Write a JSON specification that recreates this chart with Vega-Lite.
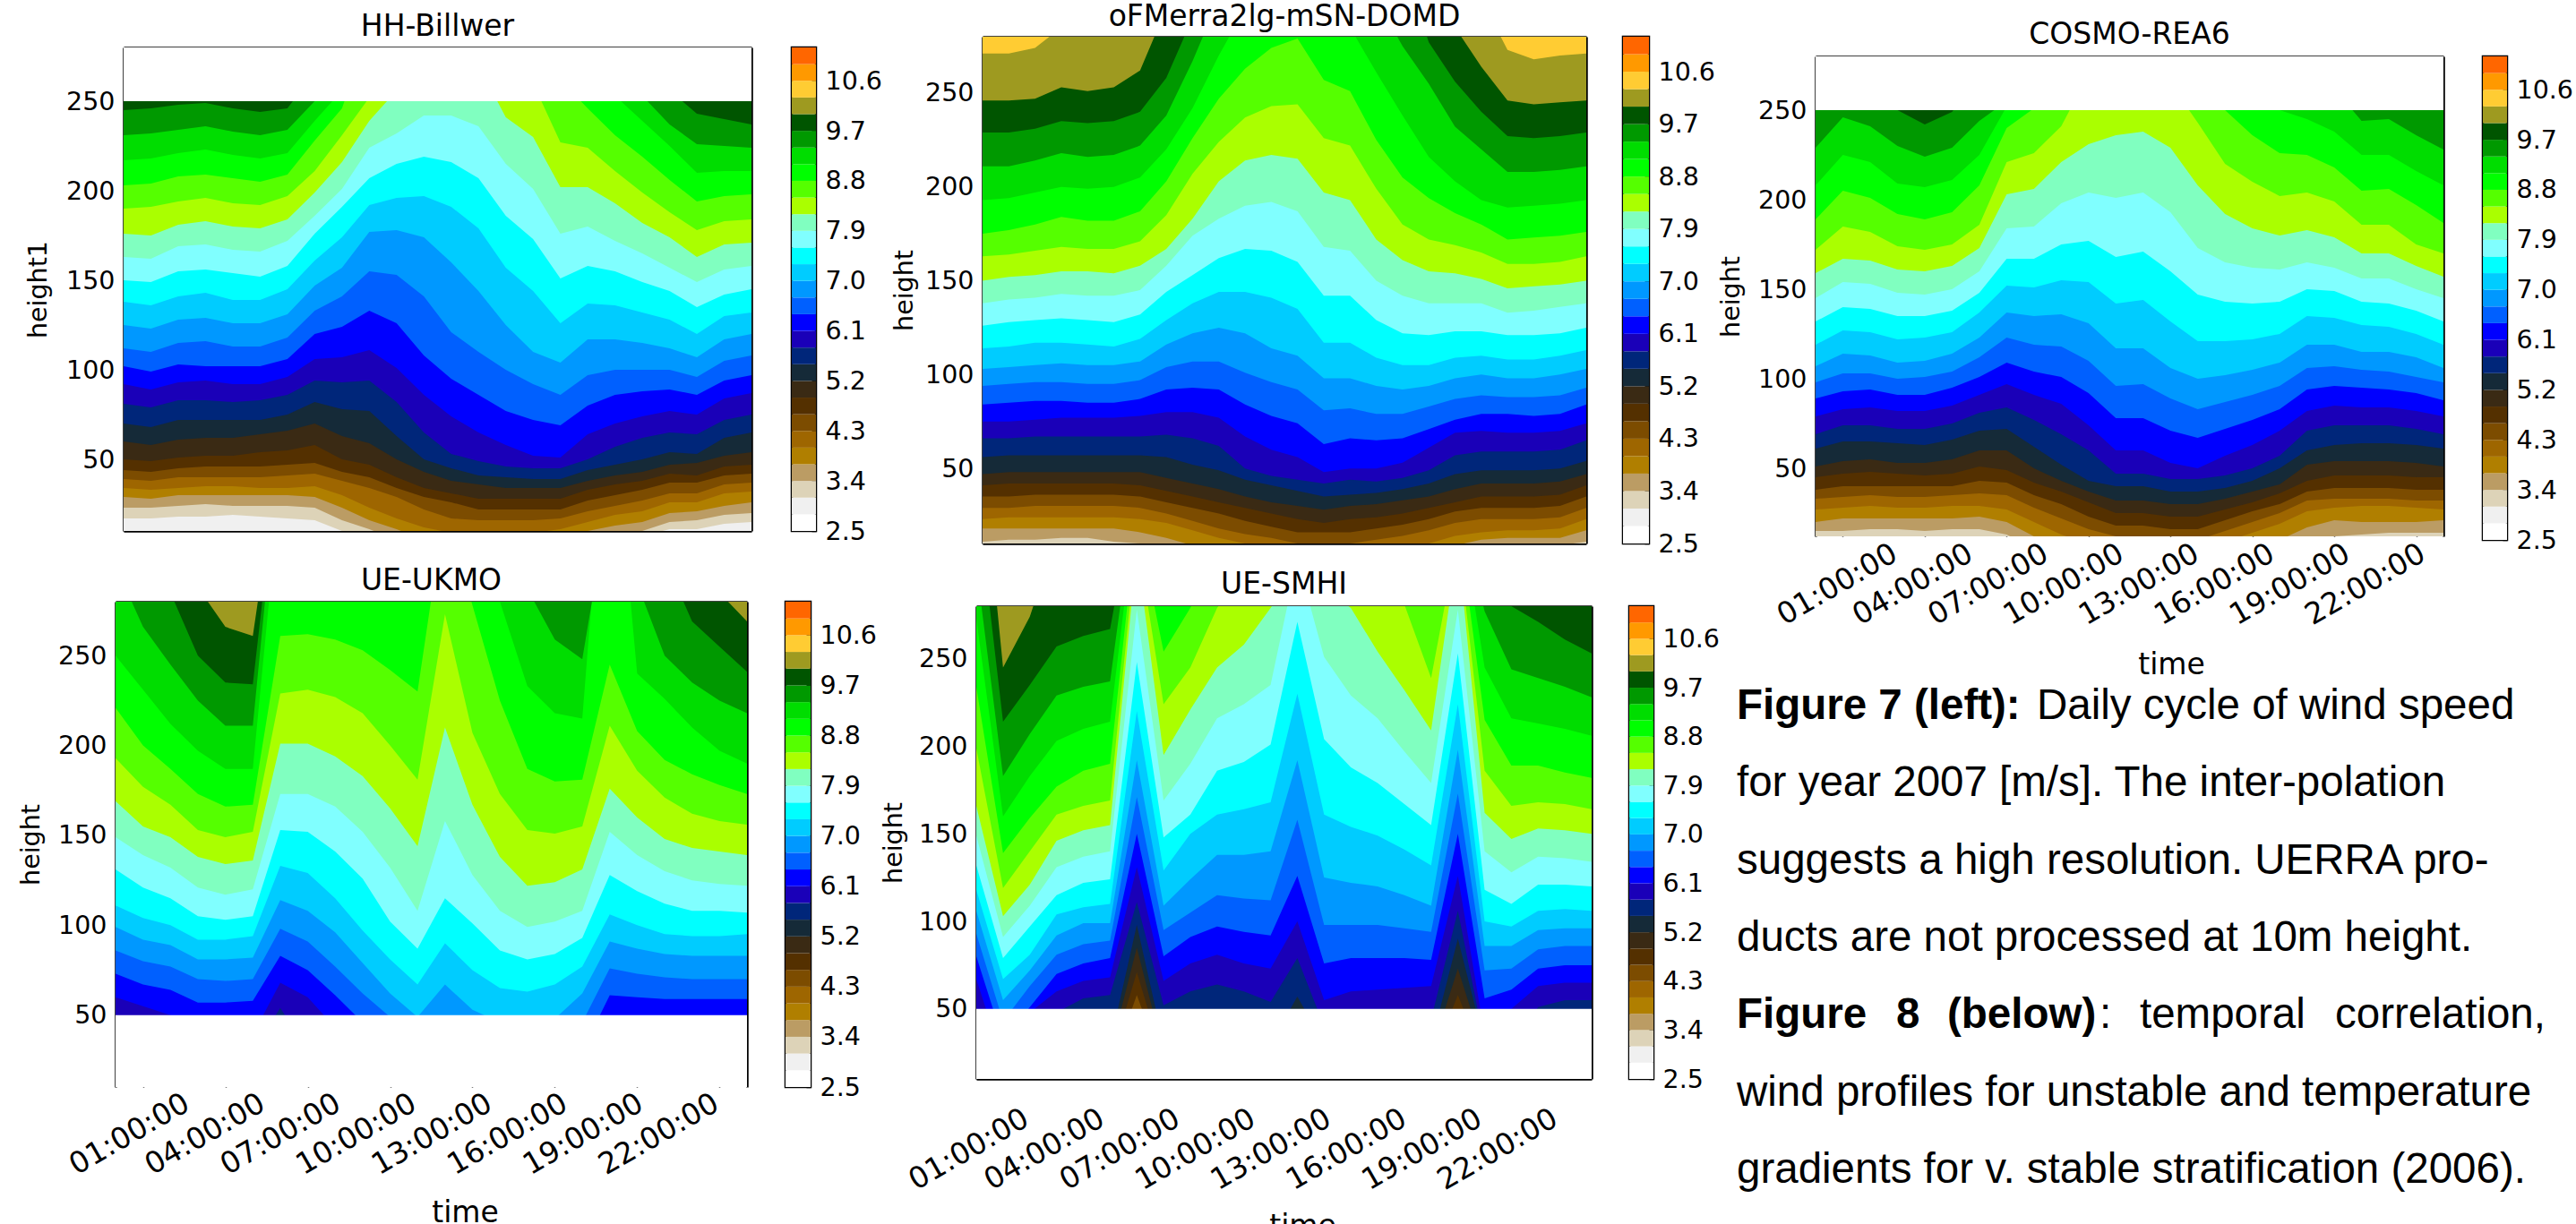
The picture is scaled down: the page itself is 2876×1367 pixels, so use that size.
{"$schema":"https://vega.github.io/schema/vega-lite/v6.json","background":"white","padding":{"left":20,"top":0,"right":0,"bottom":0},"config":{"view":{"stroke":null},"axis":{"labelFont":"DejaVu Sans","titleFont":"DejaVu Sans","labelFontSize":28.5,"titleFontSize":28.5,"titleFontWeight":"normal","grid":false,"domainColor":"#000","tickColor":"#000","labelColor":"#000","titleColor":"#000","domainWidth":2.5,"tickWidth":1.5,"tickSize":-10,"labelPadding":20,"labelOverlap":false,"labelBound":false,"labelFlush":false,"zindex":1},"title":{"font":"DejaVu Sans","fontSize":33,"fontWeight":"normal","color":"#000"}},"data":{"values":[{}]},"spacing":-3,
"datasets":{
"hours":[{"h":1,"label":"01:00:00"},{"h":4,"label":"04:00:00"},{"h":7,"label":"07:00:00"},{"h":10,"label":"10:00:00"},{"h":13,"label":"13:00:00"},{"h":16,"label":"16:00:00"},{"h":19,"label":"19:00:00"},{"h":22,"label":"22:00:00"}],
"bands":[{"b":"c0","lo":2.5,"hi":2.8},{"b":"c1","lo":2.8,"hi":3.1},{"b":"c2","lo":3.1,"hi":3.4},{"b":"c3","lo":3.4,"hi":3.7},{"b":"c4","lo":3.7,"hi":4.0},{"b":"c5","lo":4.0,"hi":4.3},{"b":"c6","lo":4.3,"hi":4.6},{"b":"c7","lo":4.6,"hi":4.9},{"b":"c8","lo":4.9,"hi":5.2},{"b":"c9","lo":5.2,"hi":5.5},{"b":"c10","lo":5.5,"hi":5.8},{"b":"c11","lo":5.8,"hi":6.1},{"b":"c12","lo":6.1,"hi":6.4},{"b":"c13","lo":6.4,"hi":6.7},{"b":"c14","lo":6.7,"hi":7.0},{"b":"c15","lo":7.0,"hi":7.3},{"b":"c16","lo":7.3,"hi":7.6},{"b":"c17","lo":7.6,"hi":7.9},{"b":"c18","lo":7.9,"hi":8.2},{"b":"c19","lo":8.2,"hi":8.5},{"b":"c20","lo":8.5,"hi":8.8},{"b":"c21","lo":8.8,"hi":9.1},{"b":"c22","lo":9.1,"hi":9.4},{"b":"c23","lo":9.4,"hi":9.7},{"b":"c24","lo":9.7,"hi":10.0},{"b":"c25","lo":10.0,"hi":10.3},{"b":"c26","lo":10.3,"hi":10.6},{"b":"c27","lo":10.6,"hi":10.9},{"b":"c28","lo":10.9,"hi":11.2}],
"cap":[{"line":1,"part":"b0","text":"Figure 7 (left):"},{"line":1,"part":"n1","text":"Daily cycle of wind speed"},{"line":2,"part":"n0","text":"for year 2007 [m/s]. The inter-polation"},{"line":3,"part":"n0","text":"suggests a high resolution. UERRA pro-"},{"line":4,"part":"n0","text":"ducts are not processed at 10m height."},{"line":5,"part":"b0","text":"Figure"},{"line":5,"part":"b2","text":"8"},{"line":5,"part":"b3","text":"(below)"},{"line":5,"part":"n4","text":":"},{"line":5,"part":"n5","text":"temporal"},{"line":5,"part":"n6","text":"correlation,"},{"line":6,"part":"n0","text":"wind profiles for unstable and temperature"},{"line":7,"part":"n0","text":"gradients for v. stable stratification (2006)."}],
"HH":[
{"c":"c2","0":17,"1":17,"2":18,"3":18,"4":19,"5":18,"6":17,"7":16,"8":10,"9":5,"10":5,"11":5,"12":5,"13":5,"14":5,"15":5,"16":5,"17":5,"18":5,"19":7,"20":11,"21":11,"22":14,"23":15},
{"c":"c3","0":23,"1":23,"2":24,"3":25,"4":24,"5":24,"6":24,"7":23,"8":16,"9":11,"10":5,"11":5,"12":5,"13":5,"14":5,"15":5,"16":5,"17":5,"18":7,"19":10,"20":15,"21":16,"22":19,"23":20},
{"c":"c4","0":29,"1":28,"2":30,"3":30,"4":30,"5":30,"6":30,"7":29,"8":23,"9":16,"10":11,"11":5,"12":5,"13":5,"14":5,"15":5,"16":5,"17":10,"18":13,"19":15,"20":20,"21":21,"22":24,"23":26},
{"c":"c5","0":34,"1":33,"2":34,"3":35,"4":35,"5":34,"6":34,"7":35,"8":30,"9":23,"10":17,"11":12,"12":9,"13":9,"14":9,"15":9,"16":11,"17":15,"18":19,"19":21,"20":26,"21":26,"22":31,"23":32},
{"c":"c6","0":39,"1":38,"2":40,"3":40,"4":40,"5":40,"6":41,"7":42,"8":38,"9":34,"10":29,"11":22,"12":17,"13":16,"14":16,"15":16,"16":17,"17":21,"18":24,"19":27,"20":31,"21":31,"22":36,"23":37},
{"c":"c7","0":44,"1":43,"2":45,"3":46,"4":46,"5":46,"6":47,"7":48,"8":43,"9":40,"10":34,"11":29,"12":26,"13":22,"14":22,"15":22,"16":22,"17":27,"18":30,"19":33,"20":37,"21":37,"22":41,"23":42},
{"c":"c8","0":50,"1":49,"2":51,"3":52,"4":52,"5":54,"6":55,"7":58,"8":50,"9":47,"10":40,"11":34,"12":31,"13":28,"14":28,"15":28,"16":28,"17":33,"18":36,"19":38,"20":42,"21":41,"22":46,"23":47},
{"c":"c9","0":60,"1":58,"2":61,"3":62,"4":62,"5":64,"6":66,"7":70,"8":63,"9":59,"10":50,"11":43,"12":38,"13":36,"14":34,"15":34,"16":34,"17":38,"18":41,"19":43,"20":47,"21":48,"22":52,"23":54},
{"c":"c10","0":70,"1":68,"2":72,"3":72,"4":72,"5":72,"6":75,"7":82,"8":78,"9":77,"10":63,"11":50,"12":45,"13":41,"14":40,"15":39,"16":39,"17":44,"18":47,"19":50,"20":54,"21":53,"22":62,"23":65},
{"c":"c11","0":81,"1":79,"2":83,"3":83,"4":82,"5":83,"6":86,"7":94,"8":93,"9":94,"10":82,"11":65,"12":53,"13":49,"14":46,"15":45,"16":45,"17":50,"18":57,"19":62,"20":65,"21":64,"22":72,"23":75},
{"c":"c12","0":92,"1":89,"2":93,"3":94,"4":92,"5":92,"6":96,"7":106,"8":107,"9":111,"10":101,"11":86,"12":74,"13":65,"14":58,"15":52,"16":51,"17":64,"18":70,"19":74,"20":77,"21":75,"22":84,"23":87},
{"c":"c13","0":102,"1":99,"2":103,"3":102,"4":102,"5":102,"6":106,"7":120,"8":124,"9":133,"10":126,"11":108,"12":95,"13":86,"14":77,"15":72,"16":69,"17":80,"18":86,"19":88,"20":89,"21":86,"22":94,"23":97},
{"c":"c14","0":112,"1":110,"2":115,"3":116,"4":113,"5":113,"6":118,"7":133,"8":141,"9":155,"10":153,"11":141,"12":121,"13":110,"14":100,"15":92,"16":86,"17":97,"18":100,"19":100,"20":100,"21":96,"22":105,"23":108},
{"c":"c15","0":125,"1":123,"2":128,"3":129,"4":126,"5":126,"6":131,"7":147,"8":157,"9":177,"10":178,"11":174,"12":160,"13":144,"14":125,"15":110,"16":104,"17":117,"18":117,"19":115,"20":112,"21":107,"22":117,"23":120},
{"c":"c16","0":138,"1":136,"2":141,"3":143,"4":139,"5":139,"6":145,"7":161,"8":174,"9":192,"10":196,"11":197,"12":191,"13":179,"14":157,"15":144,"16":126,"17":137,"18":136,"19":132,"20":128,"21":120,"22":130,"23":132},
{"c":"c17","0":150,"1":149,"2":155,"3":156,"4":154,"5":152,"6":158,"7":176,"8":191,"9":207,"10":215,"11":219,"12":216,"13":207,"14":186,"15":173,"16":151,"17":158,"18":155,"19":149,"20":144,"21":135,"22":142,"23":145},
{"c":"c18","0":163,"1":162,"2":169,"3":170,"4":167,"5":166,"6":172,"7":186,"8":201,"9":224,"10":232,"11":242,"12":242,"13":236,"14":215,"15":201,"16":176,"17":180,"18":172,"19":165,"20":157,"21":149,"22":156,"23":158},
{"c":"c19","0":176,"1":175,"2":181,"3":183,"4":180,"5":179,"6":184,"7":199,"8":216,"9":239,"10":256,"11":300,"12":300,"13":270,"14":241,"15":230,"16":202,"17":202,"18":193,"19":182,"20":174,"21":163,"22":170,"23":171},
{"c":"c20","0":190,"1":191,"2":194,"3":196,"4":193,"5":192,"6":197,"7":211,"8":231,"9":252,"10":290,"11":290,"12":290,"13":290,"14":290,"15":260,"16":227,"17":224,"18":211,"19":199,"20":188,"21":178,"22":183,"23":184},
{"c":"c21","0":203,"1":204,"2":208,"3":209,"4":207,"5":205,"6":209,"7":228,"8":246,"9":290,"10":300,"11":300,"12":300,"13":300,"14":300,"15":300,"16":262,"17":246,"18":231,"19":219,"20":206,"21":194,"22":197,"23":198},
{"c":"c22","0":217,"1":218,"2":221,"3":223,"4":220,"5":218,"6":221,"7":239,"8":256,"9":300,"10":300,"11":300,"12":300,"13":300,"14":300,"15":300,"16":300,"17":300,"18":253,"19":239,"20":225,"21":210,"22":211,"23":211},
{"c":"c23","0":231,"1":232,"2":234,"3":236,"4":233,"5":231,"6":234,"7":250,"8":270,"9":320,"10":320,"11":320,"12":320,"13":320,"14":320,"15":320,"16":320,"17":320,"18":320,"19":253,"20":237,"21":226,"22":225,"23":224},
{"c":"c24","0":245,"1":246,"2":248,"3":249,"4":246,"5":244,"6":246,"7":266,"8":300,"9":300,"10":300,"11":300,"12":300,"13":300,"14":300,"15":300,"16":300,"17":300,"18":300,"19":300,"20":256,"21":243,"22":240,"23":237}],
"MERRA":[
{"c":"c3","0":11,"1":12,"2":12,"3":13,"4":13,"5":11,"6":10,"7":5,"8":5,"9":5,"10":5,"11":5,"12":5,"13":5,"14":5,"15":5,"16":5,"17":5,"18":5,"19":5,"20":9,"21":9,"22":9,"23":11},
{"c":"c4","0":18,"1":18,"2":18,"3":18,"4":18,"5":18,"6":16,"7":13,"8":9,"9":5,"10":5,"11":5,"12":5,"13":5,"14":5,"15":5,"16":5,"17":5,"18":9,"19":12,"20":13,"21":13,"22":13,"23":17},
{"c":"c5","0":23,"1":24,"2":24,"3":24,"4":24,"5":24,"6":23,"7":21,"8":17,"9":13,"10":10,"11":7,"12":5,"13":5,"14":5,"15":5,"16":8,"17":10,"18":14,"19":16,"20":17,"21":17,"22":18,"23":23},
{"c":"c6","0":29,"1":29,"2":30,"3":30,"4":30,"5":30,"6":29,"7":26,"8":22,"9":18,"10":15,"11":13,"12":10,"13":9,"14":10,"15":12,"16":14,"17":17,"18":21,"19":23,"20":23,"21":23,"22":24,"23":29},
{"c":"c7","0":35,"1":35,"2":36,"3":36,"4":36,"5":36,"6":35,"7":32,"8":29,"9":26,"10":22,"11":19,"12":16,"13":16,"14":16,"15":18,"16":20,"17":23,"18":27,"19":29,"20":29,"21":29,"22":30,"23":35},
{"c":"c8","0":41,"1":42,"2":42,"3":42,"4":42,"5":42,"6":41,"7":38,"8":35,"9":32,"10":29,"11":26,"12":23,"13":21,"14":23,"15":24,"16":26,"17":29,"18":32,"19":35,"20":35,"21":35,"22":36,"23":41},
{"c":"c9","0":47,"1":48,"2":48,"3":48,"4":48,"5":48,"6":48,"7":45,"8":42,"9":39,"10":35,"11":32,"12":30,"13":28,"14":30,"15":31,"16":33,"17":35,"18":39,"19":42,"20":42,"21":42,"22":43,"23":47},
{"c":"c10","0":56,"1":57,"2":57,"3":57,"4":57,"5":57,"6":57,"7":56,"8":52,"9":49,"10":44,"11":41,"12":38,"13":35,"14":36,"15":37,"16":39,"17":42,"18":47,"19":49,"20":49,"21":49,"22":50,"23":54},
{"c":"c11","0":66,"1":66,"2":67,"3":67,"4":67,"5":67,"6":67,"7":68,"8":66,"9":62,"10":50,"11":46,"12":44,"13":42,"14":44,"15":43,"16":45,"17":49,"18":57,"19":59,"20":59,"21":59,"22":60,"23":65},
{"c":"c12","0":75,"1":75,"2":76,"3":77,"4":77,"5":77,"6":78,"7":80,"8":80,"9":77,"10":67,"11":60,"12":56,"13":48,"14":50,"15":50,"16":53,"17":61,"18":69,"19":70,"20":69,"21":69,"22":70,"23":74},
{"c":"c13","0":84,"1":85,"2":86,"3":86,"4":85,"5":85,"6":87,"7":92,"8":93,"9":92,"10":84,"11":78,"12":74,"13":63,"14":66,"15":65,"16":66,"17":71,"18":76,"19":79,"20":79,"21":78,"22":79,"23":84},
{"c":"c14","0":94,"1":95,"2":96,"3":96,"4":95,"5":95,"6":97,"7":104,"8":107,"9":107,"10":101,"11":96,"12":92,"13":81,"14":82,"15":79,"16":79,"17":83,"18":87,"19":89,"20":88,"21":88,"22":89,"23":93},
{"c":"c15","0":103,"1":104,"2":105,"3":106,"4":105,"5":105,"6":107,"7":116,"8":122,"9":125,"10":122,"11":114,"12":110,"13":98,"14":98,"15":94,"16":92,"17":94,"18":98,"19":100,"20":98,"21":98,"22":100,"23":103},
{"c":"c16","0":114,"1":115,"2":117,"3":117,"4":116,"5":115,"6":119,"7":129,"8":138,"9":144,"10":144,"11":141,"12":135,"13":117,"14":117,"15":109,"16":105,"17":105,"18":109,"19":110,"20":108,"21":108,"22":110,"23":113},
{"c":"c17","0":126,"1":128,"2":129,"3":130,"4":129,"5":128,"6":132,"7":144,"8":153,"9":162,"10":167,"11":166,"12":160,"13":142,"14":142,"15":129,"16":122,"17":121,"18":123,"19":123,"20":121,"21":121,"22":122,"23":125},
{"c":"c18","0":138,"1":140,"2":141,"3":143,"4":142,"5":142,"6":145,"7":158,"8":174,"9":183,"10":190,"11":192,"12":187,"13":168,"14":166,"15":150,"16":142,"17":138,"18":138,"19":138,"20":133,"21":134,"22":136,"23":138},
{"c":"c19","0":150,"1":152,"2":153,"3":155,"4":155,"5":154,"6":158,"7":167,"8":183,"9":203,"10":214,"11":217,"12":215,"13":197,"14":193,"15":172,"16":161,"17":155,"18":154,"19":151,"20":146,"21":147,"22":148,"23":150},
{"c":"c20","0":163,"1":164,"2":166,"3":168,"4":167,"5":167,"6":171,"7":185,"8":207,"9":224,"10":237,"11":243,"12":244,"13":226,"14":222,"15":199,"16":180,"17":172,"18":169,"19":165,"20":159,"21":159,"22":160,"23":163},
{"c":"c21","0":175,"1":177,"2":180,"3":184,"4":182,"5":182,"6":187,"7":203,"8":226,"9":247,"10":263,"11":274,"12":279,"13":257,"14":251,"15":225,"16":205,"17":194,"18":186,"19":180,"20":172,"21":173,"22":174,"23":176},
{"c":"c22","0":193,"1":194,"2":197,"3":200,"4":199,"5":200,"6":205,"7":220,"8":242,"9":270,"10":295,"11":320,"12":320,"13":320,"14":285,"15":261,"16":238,"17":216,"18":203,"19":193,"20":189,"21":190,"22":191,"23":193},
{"c":"c23","0":211,"1":211,"2":214,"3":218,"4":216,"5":217,"6":222,"7":238,"8":267,"9":300,"10":320,"11":320,"12":320,"13":320,"14":320,"15":300,"16":275,"17":255,"18":232,"19":220,"20":208,"21":208,"22":209,"23":211},
{"c":"c24","0":229,"1":229,"2":231,"3":235,"4":234,"5":235,"6":240,"7":258,"8":290,"9":320,"10":320,"11":320,"12":320,"13":320,"14":320,"15":320,"16":320,"17":277,"18":256,"19":240,"20":227,"21":226,"22":227,"23":229},
{"c":"c25","0":246,"1":246,"2":247,"3":253,"4":251,"5":253,"6":262,"7":295,"8":320,"9":320,"10":320,"11":320,"12":320,"13":320,"14":320,"15":320,"16":320,"17":320,"18":285,"19":264,"20":246,"21":244,"22":245,"23":246},
{"c":"c26","0":271,"1":271,"2":274,"3":285,"4":320,"5":320,"6":320,"7":320,"8":320,"9":320,"10":320,"11":320,"12":320,"13":320,"14":320,"15":320,"16":320,"17":320,"18":320,"19":300,"20":273,"21":268,"22":270,"23":271}],
"COSMO":[
{"c":"c3","0":15,"1":15,"2":16,"3":16,"4":15,"5":16,"6":16,"7":13,"8":5,"9":5,"10":5,"11":5,"12":5,"13":5,"14":5,"15":5,"16":5,"17":5,"18":10,"19":12,"20":13,"21":14,"22":14,"23":14},
{"c":"c4","0":20,"1":22,"2":22,"3":22,"4":22,"5":22,"6":23,"7":20,"8":12,"9":5,"10":5,"11":5,"12":5,"13":5,"14":5,"15":5,"16":5,"17":10,"18":17,"19":21,"20":20,"21":20,"22":20,"23":21},
{"c":"c5","0":27,"1":28,"2":29,"3":28,"4":28,"5":29,"6":29,"7":27,"8":20,"9":13,"10":8,"11":5,"12":5,"13":5,"14":5,"15":9,"16":14,"17":19,"18":26,"19":28,"20":29,"21":29,"22":28,"23":27},
{"c":"c6","0":33,"1":34,"2":35,"3":34,"4":34,"5":35,"6":36,"7":35,"8":28,"9":22,"10":16,"11":12,"12":11,"13":10,"14":10,"15":15,"16":20,"17":25,"18":32,"19":33,"20":33,"21":33,"22":32,"23":32},
{"c":"c7","0":38,"1":40,"2":40,"3":40,"4":40,"5":40,"6":43,"7":42,"8":35,"9":30,"10":23,"11":18,"12":18,"13":16,"14":16,"15":21,"16":26,"17":30,"18":37,"19":39,"20":39,"21":39,"22":38,"23":38},
{"c":"c8","0":45,"1":47,"2":48,"3":47,"4":46,"5":47,"6":51,"7":49,"8":42,"9":37,"10":31,"11":25,"12":25,"13":23,"14":23,"15":27,"16":31,"17":36,"18":43,"19":46,"20":46,"21":46,"22":45,"23":45},
{"c":"c9","0":51,"1":54,"2":55,"3":53,"4":53,"5":55,"6":60,"7":60,"8":50,"9":43,"10":37,"11":32,"12":32,"13":30,"14":30,"15":33,"16":37,"17":41,"18":52,"19":54,"20":54,"21":54,"22":53,"23":51},
{"c":"c10","0":61,"1":65,"2":65,"3":64,"4":63,"5":66,"6":71,"7":72,"8":62,"9":52,"10":43,"11":40,"12":40,"13":37,"14":37,"15":39,"16":43,"17":50,"18":60,"19":63,"20":64,"21":64,"22":63,"23":61},
{"c":"c11","0":69,"1":74,"2":74,"3":72,"4":72,"5":75,"6":81,"7":84,"8":77,"9":69,"10":60,"11":47,"12":47,"13":44,"14":44,"15":46,"16":50,"17":57,"18":71,"19":74,"20":74,"21":74,"22":72,"23":69},
{"c":"c12","0":79,"1":83,"2":84,"3":82,"4":82,"5":85,"6":91,"7":97,"8":91,"9":86,"10":74,"11":60,"12":60,"13":53,"14":50,"15":57,"16":63,"17":71,"18":82,"19":85,"20":84,"21":84,"22":82,"23":79},
{"c":"c13","0":89,"1":93,"2":94,"3":91,"4":91,"5":95,"6":101,"7":109,"8":104,"9":101,"10":92,"11":78,"12":78,"13":71,"14":67,"15":72,"16":77,"17":83,"18":94,"19":96,"20":95,"21":94,"22":92,"23":88},
{"c":"c14","0":98,"1":103,"2":103,"3":100,"4":101,"5":104,"6":112,"7":123,"8":119,"9":118,"10":110,"11":96,"12":97,"13":89,"14":83,"15":87,"16":91,"17":96,"18":106,"19":107,"20":105,"21":104,"22":101,"23":98},
{"c":"c15","0":107,"1":114,"2":113,"3":109,"4":110,"5":114,"6":123,"7":137,"8":135,"9":136,"10":131,"11":117,"12":117,"13":106,"14":100,"15":102,"16":105,"17":109,"18":119,"19":119,"20":115,"21":115,"22":112,"23":106},
{"c":"c16","0":119,"1":127,"2":126,"3":122,"4":123,"5":126,"6":137,"7":152,"8":151,"9":155,"10":154,"11":142,"12":144,"13":132,"14":121,"15":121,"16":122,"17":125,"18":135,"19":134,"20":130,"21":129,"22":125,"23":119},
{"c":"c17","0":132,"1":140,"2":139,"3":135,"4":135,"5":138,"6":148,"7":167,"8":167,"9":175,"10":177,"11":168,"12":171,"13":160,"14":147,"15":143,"16":142,"17":143,"18":150,"19":149,"20":143,"21":142,"22":138,"23":132},
{"c":"c18","0":145,"1":154,"2":153,"3":148,"4":147,"5":150,"6":160,"7":184,"8":185,"9":198,"10":204,"11":201,"12":204,"13":193,"14":173,"15":165,"16":162,"17":161,"18":165,"19":162,"20":156,"21":156,"22":150,"23":145},
{"c":"c19","0":159,"1":167,"2":166,"3":161,"4":160,"5":163,"6":173,"7":203,"8":206,"9":221,"10":231,"11":236,"12":238,"13":229,"14":208,"15":192,"16":184,"17":180,"18":183,"19":179,"20":170,"21":170,"22":163,"23":157},
{"c":"c20","0":172,"1":185,"2":182,"3":174,"4":172,"5":175,"6":186,"7":221,"8":226,"9":241,"10":270,"11":300,"12":300,"13":265,"14":243,"15":220,"16":210,"17":202,"18":204,"19":199,"20":186,"21":186,"22":175,"23":170},
{"c":"c21","0":189,"1":205,"2":201,"3":192,"4":189,"5":193,"6":208,"7":240,"8":251,"9":300,"10":300,"11":300,"12":300,"13":300,"14":300,"15":250,"16":236,"17":226,"18":225,"19":218,"20":205,"21":206,"22":197,"23":187},
{"c":"c22","0":208,"1":225,"2":221,"3":209,"4":207,"5":211,"6":225,"7":252,"8":300,"9":300,"10":300,"11":300,"12":300,"13":300,"14":300,"15":300,"16":300,"17":250,"18":245,"19":238,"20":225,"21":225,"22":216,"23":208},
{"c":"c23","0":229,"1":246,"2":241,"3":230,"4":224,"5":229,"6":244,"7":255,"8":300,"9":300,"10":300,"11":300,"12":300,"13":300,"14":300,"15":300,"16":300,"17":300,"18":300,"19":262,"20":244,"21":245,"22":236,"23":228},
{"c":"c24","0":262,"1":262,"2":262,"3":250,"4":242,"5":249,"6":270,"7":300,"8":300,"9":300,"10":300,"11":300,"12":300,"13":300,"14":300,"15":300,"16":300,"17":300,"18":300,"19":300,"20":300,"21":300,"22":300,"23":300}],
"UKMO":[
{"c":"c11","0":30,"1":30,"2":30,"3":30,"4":30,"5":30,"6":54,"7":30,"8":30,"9":30,"10":30,"11":30,"12":30,"13":30,"14":30,"15":30,"16":30,"17":30,"18":30,"19":30,"20":30,"21":30,"22":30,"23":30},
{"c":"c12","0":60,"1":55,"2":50,"3":39,"4":39,"5":39,"6":68,"7":60,"8":43,"9":30,"10":30,"11":30,"12":30,"13":30,"14":30,"15":30,"16":30,"17":30,"18":30,"19":30,"20":30,"21":30,"22":30,"23":30},
{"c":"c13","0":73,"1":67,"2":64,"3":57,"4":57,"5":58,"6":83,"7":75,"8":61,"9":46,"10":40,"11":40,"12":40,"13":40,"14":40,"15":40,"16":40,"17":30,"18":61,"19":60,"20":59,"21":59,"22":59,"23":59},
{"c":"c14","0":86,"1":80,"2":77,"3":70,"4":69,"5":70,"6":98,"7":91,"8":77,"9":62,"10":49,"11":41,"12":47,"13":40,"14":40,"15":40,"16":40,"17":46,"18":76,"19":73,"20":71,"21":70,"22":70,"23":70},
{"c":"c15","0":99,"1":92,"2":89,"3":81,"4":81,"5":82,"6":114,"7":108,"8":96,"9":79,"10":62,"11":49,"12":67,"13":53,"14":46,"15":46,"16":48,"17":62,"18":91,"19":87,"20":84,"21":83,"22":83,"23":83},
{"c":"c16","0":111,"1":104,"2":100,"3":92,"4":92,"5":94,"6":133,"7":129,"8":115,"9":97,"10":81,"11":67,"12":90,"13":75,"14":65,"15":63,"16":67,"17":77,"18":106,"19":100,"20":95,"21":94,"22":94,"23":95},
{"c":"c17","0":131,"1":121,"2":115,"3":105,"4":103,"5":105,"6":153,"7":152,"8":141,"9":126,"10":102,"11":87,"12":115,"13":101,"14":86,"15":81,"16":84,"17":93,"18":128,"19":119,"20":112,"21":108,"22":108,"23":107},
{"c":"c18","0":149,"1":139,"2":132,"3":121,"4":117,"5":120,"6":173,"7":173,"8":166,"9":152,"10":132,"11":108,"12":158,"13":128,"14":108,"15":99,"16":102,"17":108,"18":152,"19":139,"20":130,"21":125,"22":123,"23":122},
{"c":"c19","0":169,"1":155,"2":149,"3":138,"4":134,"5":136,"6":201,"7":201,"8":194,"9":183,"10":165,"11":144,"12":210,"13":167,"14":138,"15":122,"16":124,"17":131,"18":176,"19":160,"20":148,"21":143,"22":141,"23":139},
{"c":"c20","0":193,"1":177,"2":167,"3":153,"4":149,"5":152,"6":229,"7":231,"8":227,"9":218,"10":200,"11":181,"12":273,"13":207,"14":173,"15":153,"16":151,"17":155,"18":211,"19":186,"20":171,"21":162,"22":158,"23":156},
{"c":"c21","0":221,"1":200,"2":187,"3":173,"4":166,"5":167,"6":261,"7":262,"8":259,"9":253,"10":242,"11":230,"12":333,"13":278,"14":225,"15":187,"16":180,"17":181,"18":245,"19":208,"20":192,"21":184,"22":178,"23":173},
{"c":"c22","0":250,"1":231,"2":212,"3":197,"4":187,"5":187,"6":345,"7":340,"8":340,"9":340,"10":340,"11":340,"12":340,"13":340,"14":280,"15":233,"16":218,"17":215,"18":406,"19":240,"20":226,"21":210,"22":197,"23":190},
{"c":"c23","0":300,"1":266,"2":245,"3":225,"4":211,"5":211,"6":367,"7":340,"8":340,"9":340,"10":340,"11":340,"12":340,"13":340,"14":340,"15":287,"16":259,"17":248,"18":339,"19":290,"20":250,"21":235,"22":225,"23":218},
{"c":"c24","0":320,"1":320,"2":285,"3":250,"4":235,"5":234,"6":368,"7":340,"8":340,"9":340,"10":340,"11":340,"12":340,"13":340,"14":340,"15":340,"16":340,"17":340,"18":340,"19":340,"20":304,"21":269,"22":255,"23":241},
{"c":"c25","0":340,"1":340,"2":340,"3":288,"4":266,"5":261,"6":365,"7":340,"8":340,"9":340,"10":340,"11":340,"12":340,"13":340,"14":340,"15":340,"16":340,"17":340,"18":340,"19":340,"20":340,"21":340,"22":285,"23":269}],
"SMHI":[
{"c":"c7","0":15,"1":15,"2":15,"3":15,"4":15,"5":15,"6":58,"7":15,"8":15,"9":15,"10":15,"11":15,"12":15,"13":15,"14":15,"15":15,"16":15,"17":15,"18":48,"19":15,"20":15,"21":15,"22":15,"23":15},
{"c":"c8","0":20,"1":20,"2":20,"3":20,"4":20,"5":20,"6":71,"7":20,"8":20,"9":20,"10":20,"11":20,"12":20,"13":20,"14":20,"15":20,"16":20,"17":20,"18":58,"19":20,"20":20,"21":20,"22":20,"23":20},
{"c":"c9","0":25,"1":25,"2":25,"3":25,"4":25,"5":25,"6":85,"7":25,"8":25,"9":25,"10":25,"11":25,"12":45,"13":25,"14":25,"15":25,"16":25,"17":25,"18":73,"19":25,"20":25,"21":25,"22":25,"23":25},
{"c":"c10","0":30,"1":30,"2":30,"3":30,"4":30,"5":30,"6":98,"7":30,"8":30,"9":30,"10":30,"11":30,"12":57,"13":30,"14":30,"15":30,"16":30,"17":30,"18":90,"19":30,"20":30,"21":30,"22":30,"23":30},
{"c":"c11","0":49,"1":10,"2":20,"3":48,"4":56,"5":58,"6":111,"7":52,"8":60,"9":64,"10":60,"11":54,"12":79,"13":40,"14":40,"15":40,"16":40,"17":44,"18":106,"19":30,"20":30,"21":51,"22":55,"23":55},
{"c":"c12","0":67,"1":20,"2":48,"3":60,"4":66,"5":68,"6":131,"7":66,"8":76,"9":81,"10":76,"11":73,"12":100,"13":55,"14":60,"15":61,"16":62,"17":63,"18":126,"19":35,"20":50,"21":63,"22":65,"23":65},
{"c":"c13","0":80,"1":32,"2":51,"3":70,"4":76,"5":79,"6":150,"7":80,"8":91,"9":97,"10":94,"11":92,"12":126,"13":76,"14":79,"15":79,"16":79,"17":78,"18":150,"19":56,"20":61,"21":73,"22":75,"23":75},
{"c":"c14","0":93,"1":43,"2":63,"3":81,"4":87,"5":89,"6":171,"7":95,"8":105,"9":115,"10":113,"11":112,"12":158,"13":98,"14":98,"15":98,"16":96,"17":94,"18":173,"19":72,"20":73,"21":84,"22":86,"23":86},
{"c":"c15","0":106,"1":55,"2":72,"3":92,"4":99,"5":99,"6":192,"7":109,"8":124,"9":138,"10":138,"11":140,"12":192,"13":125,"14":122,"15":120,"16":115,"17":109,"18":198,"19":86,"20":86,"21":95,"22":96,"23":96},
{"c":"c16","0":118,"1":67,"2":81,"3":104,"4":108,"5":110,"6":220,"7":129,"8":150,"9":161,"10":164,"11":168,"12":230,"13":161,"14":154,"15":149,"16":141,"17":132,"18":224,"19":100,"20":97,"21":106,"22":107,"23":106},
{"c":"c17","0":132,"1":79,"2":97,"3":115,"4":122,"5":124,"6":248,"7":148,"8":161,"9":186,"10":191,"11":201,"12":271,"13":204,"14":188,"15":179,"16":167,"17":155,"18":253,"19":118,"20":110,"21":121,"22":121,"23":120},
{"c":"c18","0":149,"1":91,"2":109,"3":131,"4":137,"5":140,"6":278,"7":169,"8":190,"9":216,"10":224,"11":235,"12":307,"13":251,"14":229,"15":216,"16":197,"17":179,"18":278,"19":140,"20":128,"21":137,"22":136,"23":134},
{"c":"c19","0":166,"1":103,"2":121,"3":146,"4":152,"5":155,"6":312,"7":195,"8":221,"9":245,"10":258,"11":279,"12":300,"13":290,"14":279,"15":254,"16":232,"17":209,"18":315,"19":162,"20":147,"21":153,"22":152,"23":150},
{"c":"c20","0":199,"1":119,"2":140,"3":161,"4":166,"5":169,"6":320,"7":224,"8":245,"9":279,"10":300,"11":320,"12":320,"13":320,"14":310,"15":300,"16":281,"17":239,"18":320,"19":186,"20":166,"21":168,"22":167,"23":164},
{"c":"c21","0":234,"1":139,"2":159,"3":177,"4":186,"5":190,"6":330,"7":254,"8":279,"9":310,"10":320,"11":320,"12":320,"13":320,"14":320,"15":320,"16":320,"17":290,"18":330,"19":215,"20":189,"21":189,"22":185,"23":182},
{"c":"c22","0":273,"1":160,"2":183,"3":203,"4":210,"5":214,"6":340,"7":300,"8":320,"9":320,"10":320,"11":320,"12":320,"13":320,"14":320,"15":320,"16":320,"17":320,"18":340,"19":245,"20":216,"21":213,"22":210,"23":206},
{"c":"c23","0":303,"1":183,"2":207,"3":229,"4":234,"5":237,"6":350,"7":340,"8":340,"9":340,"10":340,"11":340,"12":340,"13":340,"14":340,"15":340,"16":340,"17":340,"18":340,"19":277,"20":244,"21":239,"22":234,"23":228},
{"c":"c24","0":345,"1":214,"2":235,"3":257,"4":263,"5":267,"6":350,"7":340,"8":340,"9":340,"10":340,"11":340,"12":340,"13":340,"14":340,"15":340,"16":340,"17":340,"18":340,"19":340,"20":280,"21":271,"22":261,"23":253},
{"c":"c25","0":400,"1":245,"2":274,"3":320,"4":320,"5":320,"6":320,"7":320,"8":320,"9":320,"10":320,"11":320,"12":320,"13":320,"14":320,"15":320,"16":320,"17":320,"18":320,"19":320,"20":320,"21":320,"22":320,"23":320}]
},
"hconcat":[
{"spacing":0,"vconcat":[
{"width":1,"height":14,"mark":{"type":"point","opacity":0,"size":1},"encoding":{}},
{"spacing":0,"bounds":"flush","hconcat":[
{"width":9,"height":1,"mark":{"type":"point","opacity":0,"size":1},"encoding":{}},
{"width":701,"height":540,"title":{"text":"HH-Billwer","offset":5},"resolve":{"axis":{"x":"independent","y":"independent"}},"layer":[
{"mark":{"type":"rect","color":"#f0f0f0"},"encoding":{"y":{"datum":10,"type":"quantitative","scale":{"domain":[10,280],"nice":false,"zero":false},"axis":null},"y2":{"datum":280}}},
{"data":{"name":"HH"},"mark":{"type":"area","clip":true},"transform":[{"fold":["0","1","2","3","4","5","6","7","8","9","10","11","12","13","14","15","16","17","18","19","20","21","22","23"],"as":["k","v"]},{"calculate":"toNumber(datum.k)","as":"t"}],"encoding":{"x":{"field":"t","type":"quantitative","scale":{"domain":[0,23],"nice":false,"zero":false},"axis":null},"y":{"field":"v","type":"quantitative","stack":null,"scale":{"domain":[10,280],"nice":false,"zero":false},"axis":null},"y2":{"datum":280},"color":{"field":"c","type":"nominal","legend":null,"scale":{"domain":["c0","c1","c2","c3","c4","c5","c6","c7","c8","c9","c10","c11","c12","c13","c14","c15","c16","c17","c18","c19","c20","c21","c22","c23","c24","c25","c26","c27","c28"],"range":["#ffffff","#f0f0f0","#ddd3b8","#bb9c64","#b07f00","#9e6600","#7c4c00","#543000","#3a2a14","#152a38","#00267a","#1a00b8","#0000ff","#0060ff","#0098ff","#00ccff","#00ffff","#80ffff","#80ffc0","#aaff00","#55ff00","#00ff00","#00dd00","#009900","#005500","#9e9a20","#ffcc33","#ff9900","#ff6600"]}}}},
{"mark":{"type":"rect","color":"#fff"},"encoding":{"y":{"datum":250,"type":"quantitative","scale":{"domain":[10,280],"nice":false,"zero":false},"axis":null},"y2":{"datum":280}}},
{"mark":{"type":"point","opacity":0,"size":1},"encoding":{"x":{"datum":0,"type":"quantitative","scale":{"domain":[0,23],"nice":false,"zero":false},"axis":{"orient":"bottom","values":[1,4,7,10,13,16,19,22],"labels":false,"title":null}},"y":{"datum":10,"type":"quantitative","scale":{"domain":[10,280],"nice":false,"zero":false},"axis":{"orient":"left","values":[50,100,150,200,250],"title":"height1","titleX":-96,"titleY":270,"titleAlign":"center","titleBaseline":"middle"}}}},
{"mark":{"type":"point","opacity":0,"size":1},"encoding":{"x":{"datum":0,"type":"quantitative","scale":{"domain":[0,23],"nice":false,"zero":false},"axis":{"orient":"top","values":[1,4,7,10,13,16,19,22],"labels":false,"title":null}},"y":{"datum":10,"type":"quantitative","scale":{"domain":[10,280],"nice":false,"zero":false},"axis":{"orient":"right","values":[50,100,150,200,250],"labels":false,"title":null}}}}
]},
{"width":45,"height":1,"mark":{"type":"point","opacity":0,"size":1},"encoding":{}},
{"width":27,"height":540,"view":{"stroke":"#000","strokeWidth":2.5},"data":{"name":"bands"},"mark":"rect","encoding":{"y":{"field":"lo","type":"quantitative","scale":{"domain":[2.5,11.2],"nice":false,"zero":false},"axis":{"orient":"right","values":[2.5,3.4,4.3,5.2,6.1,7.0,7.9,8.8,9.7,10.6],"format":".1f","title":null,"domain":false,"tickSize":-5,"labelPadding":15}},"y2":{"field":"hi"},"color":{"field":"b","type":"nominal","legend":null,"scale":{"domain":["c0","c1","c2","c3","c4","c5","c6","c7","c8","c9","c10","c11","c12","c13","c14","c15","c16","c17","c18","c19","c20","c21","c22","c23","c24","c25","c26","c27","c28"],"range":["#ffffff","#f0f0f0","#ddd3b8","#bb9c64","#b07f00","#9e6600","#7c4c00","#543000","#3a2a14","#152a38","#00267a","#1a00b8","#0000ff","#0060ff","#0098ff","#00ccff","#00ffff","#80ffff","#80ffc0","#aaff00","#55ff00","#00ff00","#00dd00","#009900","#005500","#9e9a20","#ffcc33","#ff9900","#ff6600"]}}}}
]},
{"width":1,"height":24,"mark":{"type":"point","opacity":0,"size":1},"encoding":{}},
{"spacing":0,"bounds":"flush","hconcat":[
{"width":705,"height":542,"title":{"text":"UE-UKMO","offset":5},"resolve":{"axis":{"x":"independent","y":"independent"},"scale":{"x":"independent"}},"layer":[
{"mark":{"type":"rect","color":"#00267a"},"encoding":{"y":{"datum":10,"type":"quantitative","scale":{"domain":[10,280],"nice":false,"zero":false},"axis":null},"y2":{"datum":280}}},
{"data":{"name":"UKMO"},"mark":{"type":"area","clip":true},"transform":[{"fold":["0","1","2","3","4","5","6","7","8","9","10","11","12","13","14","15","16","17","18","19","20","21","22","23"],"as":["k","v"]},{"calculate":"toNumber(datum.k)","as":"t"}],"encoding":{"x":{"field":"t","type":"quantitative","scale":{"domain":[0,23],"nice":false,"zero":false},"axis":null},"y":{"field":"v","type":"quantitative","stack":null,"scale":{"domain":[10,280],"nice":false,"zero":false},"axis":null},"y2":{"datum":280},"color":{"field":"c","type":"nominal","legend":null,"scale":{"domain":["c0","c1","c2","c3","c4","c5","c6","c7","c8","c9","c10","c11","c12","c13","c14","c15","c16","c17","c18","c19","c20","c21","c22","c23","c24","c25","c26","c27","c28"],"range":["#ffffff","#f0f0f0","#ddd3b8","#bb9c64","#b07f00","#9e6600","#7c4c00","#543000","#3a2a14","#152a38","#00267a","#1a00b8","#0000ff","#0060ff","#0098ff","#00ccff","#00ffff","#80ffff","#80ffc0","#aaff00","#55ff00","#00ff00","#00dd00","#009900","#005500","#9e9a20","#ffcc33","#ff9900","#ff6600"]}}}},
{"mark":{"type":"rect","color":"#fff"},"encoding":{"y":{"datum":10,"type":"quantitative","scale":{"domain":[10,280],"nice":false,"zero":false},"axis":null},"y2":{"datum":50}}},
{"mark":{"type":"point","opacity":0,"size":1},"encoding":{"x":{"datum":0,"type":"quantitative","scale":{"domain":[0,23],"nice":false,"zero":false},"axis":{"orient":"bottom","values":[1,4,7,10,13,16,19,22],"domain":false,"labels":false,"title":"time","titleFontSize":33,"titleX":390,"titleY":150,"titleBaseline":"alphabetic"}},"y":{"datum":10,"type":"quantitative","scale":{"domain":[10,280],"nice":false,"zero":false},"axis":{"orient":"left","values":[50,100,150,200,250],"title":"height","titleX":-95,"titleY":271,"titleAlign":"center","titleBaseline":"middle"}}}},
{"mark":{"type":"point","opacity":0,"size":1},"encoding":{"x":{"datum":0,"type":"quantitative","scale":{"domain":[0,23],"nice":false,"zero":false},"axis":{"orient":"top","values":[1,4,7,10,13,16,19,22],"labels":false,"title":null}},"y":{"datum":10,"type":"quantitative","scale":{"domain":[10,280],"nice":false,"zero":false},"axis":{"orient":"right","values":[50,100,150,200,250],"labels":false,"title":null}}}},
{"data":{"name":"hours"},"mark":{"type":"text","angle":-30,"align":"center","baseline":"middle","font":"DejaVu Sans","fontSize":33,"color":"#000"},"encoding":{"x":{"field":"h","type":"quantitative","scale":{"domain":[0.444,25.49],"nice":false,"zero":false},"axis":null},"y":{"datum":-16.4,"type":"quantitative","scale":{"domain":[10,280],"nice":false,"zero":false},"axis":null},"text":{"field":"label"}}}
]},
{"width":43,"height":1,"mark":{"type":"point","opacity":0,"size":1},"encoding":{}},
{"width":28,"height":542,"view":{"stroke":"#000","strokeWidth":2.5},"data":{"name":"bands"},"mark":"rect","encoding":{"y":{"field":"lo","type":"quantitative","scale":{"domain":[2.5,11.2],"nice":false,"zero":false},"axis":{"orient":"right","values":[2.5,3.4,4.3,5.2,6.1,7.0,7.9,8.8,9.7,10.6],"format":".1f","title":null,"domain":false,"tickSize":-5,"labelPadding":15}},"y2":{"field":"hi"},"color":{"field":"b","type":"nominal","legend":null,"scale":{"domain":["c0","c1","c2","c3","c4","c5","c6","c7","c8","c9","c10","c11","c12","c13","c14","c15","c16","c17","c18","c19","c20","c21","c22","c23","c24","c25","c26","c27","c28"],"range":["#ffffff","#f0f0f0","#ddd3b8","#bb9c64","#b07f00","#9e6600","#7c4c00","#543000","#3a2a14","#152a38","#00267a","#1a00b8","#0000ff","#0060ff","#0098ff","#00ccff","#00ffff","#80ffff","#80ffc0","#aaff00","#55ff00","#00ff00","#00dd00","#009900","#005500","#9e9a20","#ffcc33","#ff9900","#ff6600"]}}}}
]}
]},
{"spacing":0,"vconcat":[
{"width":1,"height":2,"mark":{"type":"point","opacity":0,"size":1},"encoding":{}},
{"spacing":0,"bounds":"flush","hconcat":[
{"width":7,"height":1,"mark":{"type":"point","opacity":0,"size":1},"encoding":{}},
{"width":674,"height":566,"title":{"text":"oFMerra2lg-mSN-DOMD","offset":4.5},"resolve":{"axis":{"x":"independent","y":"independent"}},"layer":[
{"mark":{"type":"rect","color":"#ddd3b8"},"encoding":{"y":{"datum":10,"type":"quantitative","scale":{"domain":[10,280],"nice":false,"zero":false},"axis":null},"y2":{"datum":280}}},
{"data":{"name":"MERRA"},"mark":{"type":"area","clip":true},"transform":[{"fold":["0","1","2","3","4","5","6","7","8","9","10","11","12","13","14","15","16","17","18","19","20","21","22","23"],"as":["k","v"]},{"calculate":"toNumber(datum.k)","as":"t"}],"encoding":{"x":{"field":"t","type":"quantitative","scale":{"domain":[0,23],"nice":false,"zero":false},"axis":null},"y":{"field":"v","type":"quantitative","stack":null,"scale":{"domain":[10,280],"nice":false,"zero":false},"axis":null},"y2":{"datum":280},"color":{"field":"c","type":"nominal","legend":null,"scale":{"domain":["c0","c1","c2","c3","c4","c5","c6","c7","c8","c9","c10","c11","c12","c13","c14","c15","c16","c17","c18","c19","c20","c21","c22","c23","c24","c25","c26","c27","c28"],"range":["#ffffff","#f0f0f0","#ddd3b8","#bb9c64","#b07f00","#9e6600","#7c4c00","#543000","#3a2a14","#152a38","#00267a","#1a00b8","#0000ff","#0060ff","#0098ff","#00ccff","#00ffff","#80ffff","#80ffc0","#aaff00","#55ff00","#00ff00","#00dd00","#009900","#005500","#9e9a20","#ffcc33","#ff9900","#ff6600"]}}}},
{"mark":{"type":"point","opacity":0,"size":1},"encoding":{"x":{"datum":0,"type":"quantitative","scale":{"domain":[0,23],"nice":false,"zero":false},"axis":{"orient":"bottom","values":[1,4,7,10,13,16,19,22],"labels":false,"title":null}},"y":{"datum":10,"type":"quantitative","scale":{"domain":[10,280],"nice":false,"zero":false},"axis":{"orient":"left","values":[50,100,150,200,250],"title":"height","titleX":-88,"titleY":283,"titleAlign":"center","titleBaseline":"middle"}}}},
{"mark":{"type":"point","opacity":0,"size":1},"encoding":{"x":{"datum":0,"type":"quantitative","scale":{"domain":[0,23],"nice":false,"zero":false},"axis":{"orient":"top","values":[1,4,7,10,13,16,19,22],"labels":false,"title":null}},"y":{"datum":10,"type":"quantitative","scale":{"domain":[10,280],"nice":false,"zero":false},"axis":{"orient":"right","values":[50,100,150,200,250],"labels":false,"title":null}}}}
]},
{"width":41,"height":1,"mark":{"type":"point","opacity":0,"size":1},"encoding":{}},
{"width":29,"height":566,"view":{"stroke":"#000","strokeWidth":2.5},"data":{"name":"bands"},"mark":"rect","encoding":{"y":{"field":"lo","type":"quantitative","scale":{"domain":[2.5,11.2],"nice":false,"zero":false},"axis":{"orient":"right","values":[2.5,3.4,4.3,5.2,6.1,7.0,7.9,8.8,9.7,10.6],"format":".1f","title":null,"domain":false,"tickSize":-5,"labelPadding":15}},"y2":{"field":"hi"},"color":{"field":"b","type":"nominal","legend":null,"scale":{"domain":["c0","c1","c2","c3","c4","c5","c6","c7","c8","c9","c10","c11","c12","c13","c14","c15","c16","c17","c18","c19","c20","c21","c22","c23","c24","c25","c26","c27","c28"],"range":["#ffffff","#f0f0f0","#ddd3b8","#bb9c64","#b07f00","#9e6600","#7c4c00","#543000","#3a2a14","#152a38","#00267a","#1a00b8","#0000ff","#0060ff","#0098ff","#00ccff","#00ffff","#80ffff","#80ffc0","#aaff00","#55ff00","#00ff00","#00dd00","#009900","#005500","#9e9a20","#ffcc33","#ff9900","#ff6600"]}}}}
]},
{"width":1,"height":14,"mark":{"type":"point","opacity":0,"size":1},"encoding":{}},
{"spacing":0,"bounds":"flush","hconcat":[
{"width":687,"height":528,"title":{"text":"UE-SMHI","offset":6},"resolve":{"axis":{"x":"independent","y":"independent"},"scale":{"x":"independent"}},"layer":[
{"mark":{"type":"rect","color":"#7c4c00"},"encoding":{"y":{"datum":10,"type":"quantitative","scale":{"domain":[10,280],"nice":false,"zero":false},"axis":null},"y2":{"datum":280}}},
{"data":{"name":"SMHI"},"mark":{"type":"area","clip":true},"transform":[{"fold":["0","1","2","3","4","5","6","7","8","9","10","11","12","13","14","15","16","17","18","19","20","21","22","23"],"as":["k","v"]},{"calculate":"toNumber(datum.k)","as":"t"}],"encoding":{"x":{"field":"t","type":"quantitative","scale":{"domain":[0,23],"nice":false,"zero":false},"axis":null},"y":{"field":"v","type":"quantitative","stack":null,"scale":{"domain":[10,280],"nice":false,"zero":false},"axis":null},"y2":{"datum":280},"color":{"field":"c","type":"nominal","legend":null,"scale":{"domain":["c0","c1","c2","c3","c4","c5","c6","c7","c8","c9","c10","c11","c12","c13","c14","c15","c16","c17","c18","c19","c20","c21","c22","c23","c24","c25","c26","c27","c28"],"range":["#ffffff","#f0f0f0","#ddd3b8","#bb9c64","#b07f00","#9e6600","#7c4c00","#543000","#3a2a14","#152a38","#00267a","#1a00b8","#0000ff","#0060ff","#0098ff","#00ccff","#00ffff","#80ffff","#80ffc0","#aaff00","#55ff00","#00ff00","#00dd00","#009900","#005500","#9e9a20","#ffcc33","#ff9900","#ff6600"]}}}},
{"mark":{"type":"rect","color":"#fff"},"encoding":{"y":{"datum":10,"type":"quantitative","scale":{"domain":[10,280],"nice":false,"zero":false},"axis":null},"y2":{"datum":50}}},
{"mark":{"type":"point","opacity":0,"size":1},"encoding":{"x":{"datum":0,"type":"quantitative","scale":{"domain":[0,23],"nice":false,"zero":false},"axis":{"orient":"bottom","values":[1,4,7,10,13,16,19,22],"labels":false,"title":"time","titleFontSize":33,"titleX":364,"titleY":174,"titleBaseline":"alphabetic"}},"y":{"datum":10,"type":"quantitative","scale":{"domain":[10,280],"nice":false,"zero":false},"axis":{"orient":"left","values":[50,100,150,200,250],"title":"height","titleX":-93,"titleY":264,"titleAlign":"center","titleBaseline":"middle"}}}},
{"mark":{"type":"point","opacity":0,"size":1},"encoding":{"x":{"datum":0,"type":"quantitative","scale":{"domain":[0,23],"nice":false,"zero":false},"axis":{"orient":"top","values":[1,4,7,10,13,16,19,22],"labels":false,"title":null}},"y":{"datum":10,"type":"quantitative","scale":{"domain":[10,280],"nice":false,"zero":false},"axis":{"orient":"right","values":[50,100,150,200,250],"labels":false,"title":null}}}},
{"data":{"name":"hours"},"mark":{"type":"text","angle":-30,"align":"center","baseline":"middle","font":"DejaVu Sans","fontSize":33,"color":"#000"},"encoding":{"x":{"field":"h","type":"quantitative","scale":{"domain":[1.289,25.73],"nice":false,"zero":false},"axis":null},"y":{"datum":-30.4,"type":"quantitative","scale":{"domain":[10,280],"nice":false,"zero":false},"axis":null},"text":{"field":"label"}}}
]},
{"width":42,"height":1,"mark":{"type":"point","opacity":0,"size":1},"encoding":{}},
{"width":27,"height":528,"view":{"stroke":"#000","strokeWidth":2.5},"data":{"name":"bands"},"mark":"rect","encoding":{"y":{"field":"lo","type":"quantitative","scale":{"domain":[2.5,11.2],"nice":false,"zero":false},"axis":{"orient":"right","values":[2.5,3.4,4.3,5.2,6.1,7.0,7.9,8.8,9.7,10.6],"format":".1f","title":null,"domain":false,"tickSize":-5,"labelPadding":15}},"y2":{"field":"hi"},"color":{"field":"b","type":"nominal","legend":null,"scale":{"domain":["c0","c1","c2","c3","c4","c5","c6","c7","c8","c9","c10","c11","c12","c13","c14","c15","c16","c17","c18","c19","c20","c21","c22","c23","c24","c25","c26","c27","c28"],"range":["#ffffff","#f0f0f0","#ddd3b8","#bb9c64","#b07f00","#9e6600","#7c4c00","#543000","#3a2a14","#152a38","#00267a","#1a00b8","#0000ff","#0060ff","#0098ff","#00ccff","#00ffff","#80ffff","#80ffc0","#aaff00","#55ff00","#00ff00","#00dd00","#009900","#005500","#9e9a20","#ffcc33","#ff9900","#ff6600"]}}}}
]}
]},
{"spacing":0,"vconcat":[
{"width":1,"height":23,"mark":{"type":"point","opacity":0,"size":1},"encoding":{}},
{"spacing":0,"bounds":"flush","hconcat":[
{"width":88,"height":1,"mark":{"type":"point","opacity":0,"size":1},"encoding":{}},
{"width":701,"height":536,"title":{"text":"COSMO-REA6","offset":6},"resolve":{"axis":{"x":"independent","y":"independent"},"scale":{"x":"independent"}},"layer":[
{"mark":{"type":"rect","color":"#ddd3b8"},"encoding":{"y":{"datum":12,"type":"quantitative","scale":{"domain":[12,280],"nice":false,"zero":false},"axis":null},"y2":{"datum":280}}},
{"data":{"name":"COSMO"},"mark":{"type":"area","clip":true},"transform":[{"fold":["0","1","2","3","4","5","6","7","8","9","10","11","12","13","14","15","16","17","18","19","20","21","22","23"],"as":["k","v"]},{"calculate":"toNumber(datum.k)","as":"t"}],"encoding":{"x":{"field":"t","type":"quantitative","scale":{"domain":[0,23],"nice":false,"zero":false},"axis":null},"y":{"field":"v","type":"quantitative","stack":null,"scale":{"domain":[12,280],"nice":false,"zero":false},"axis":null},"y2":{"datum":280},"color":{"field":"c","type":"nominal","legend":null,"scale":{"domain":["c0","c1","c2","c3","c4","c5","c6","c7","c8","c9","c10","c11","c12","c13","c14","c15","c16","c17","c18","c19","c20","c21","c22","c23","c24","c25","c26","c27","c28"],"range":["#ffffff","#f0f0f0","#ddd3b8","#bb9c64","#b07f00","#9e6600","#7c4c00","#543000","#3a2a14","#152a38","#00267a","#1a00b8","#0000ff","#0060ff","#0098ff","#00ccff","#00ffff","#80ffff","#80ffc0","#aaff00","#55ff00","#00ff00","#00dd00","#009900","#005500","#9e9a20","#ffcc33","#ff9900","#ff6600"]}}}},
{"mark":{"type":"rect","color":"#fff"},"encoding":{"y":{"datum":250,"type":"quantitative","scale":{"domain":[12,280],"nice":false,"zero":false},"axis":null},"y2":{"datum":280}}},
{"mark":{"type":"point","opacity":0,"size":1},"encoding":{"x":{"datum":0,"type":"quantitative","scale":{"domain":[0,23],"nice":false,"zero":false},"axis":{"orient":"bottom","values":[1,4,7,10,13,16,19,22],"domain":false,"labels":false,"title":"time","titleFontSize":33,"titleX":397,"titleY":153,"titleBaseline":"alphabetic"}},"y":{"datum":12,"type":"quantitative","scale":{"domain":[12,280],"nice":false,"zero":false},"axis":{"orient":"left","values":[50,100,150,200,250],"title":"height","titleX":-95,"titleY":268,"titleAlign":"center","titleBaseline":"middle"}}}},
{"mark":{"type":"point","opacity":0,"size":1},"encoding":{"x":{"datum":0,"type":"quantitative","scale":{"domain":[0,23],"nice":false,"zero":false},"axis":{"orient":"top","values":[1,4,7,10,13,16,19,22],"labels":false,"title":null}},"y":{"datum":12,"type":"quantitative","scale":{"domain":[12,280],"nice":false,"zero":false},"axis":{"orient":"right","values":[50,100,150,200,250],"labels":false,"title":null}}}},
{"data":{"name":"hours"},"mark":{"type":"text","angle":-30,"align":"center","baseline":"middle","font":"DejaVu Sans","fontSize":33,"color":"#000"},"encoding":{"x":{"field":"h","type":"quantitative","scale":{"domain":[0.127,25.1],"nice":false,"zero":false},"axis":null},"y":{"datum":-15,"type":"quantitative","scale":{"domain":[12,280],"nice":false,"zero":false},"axis":null},"text":{"field":"label"}}}
]},
{"width":44,"height":1,"mark":{"type":"point","opacity":0,"size":1},"encoding":{}},
{"width":27,"height":540,"view":{"stroke":"#000","strokeWidth":2.5},"data":{"name":"bands"},"mark":"rect","encoding":{"y":{"field":"lo","type":"quantitative","scale":{"domain":[2.5,11.2],"nice":false,"zero":false},"axis":{"orient":"right","values":[2.5,3.4,4.3,5.2,6.1,7.0,7.9,8.8,9.7,10.6],"format":".1f","title":null,"domain":false,"tickSize":-5,"labelPadding":15}},"y2":{"field":"hi"},"color":{"field":"b","type":"nominal","legend":null,"scale":{"domain":["c0","c1","c2","c3","c4","c5","c6","c7","c8","c9","c10","c11","c12","c13","c14","c15","c16","c17","c18","c19","c20","c21","c22","c23","c24","c25","c26","c27","c28"],"range":["#ffffff","#f0f0f0","#ddd3b8","#bb9c64","#b07f00","#9e6600","#7c4c00","#543000","#3a2a14","#152a38","#00267a","#1a00b8","#0000ff","#0060ff","#0098ff","#00ccff","#00ffff","#80ffff","#80ffc0","#aaff00","#55ff00","#00ff00","#00dd00","#009900","#005500","#9e9a20","#ffcc33","#ff9900","#ff6600"]}}}}
]},
{"width":1,"height":6,"mark":{"type":"point","opacity":0,"size":1},"encoding":{}},
{"width":914,"height":518,"data":{"name":"cap"},"encoding":{"x":{"value":0},"y":{"field":"line","type":"quantitative","scale":{"domain":[1,7],"reverse":true,"nice":false,"zero":false},"axis":null},"text":{"field":"text"}},"layer":[
{"transform":[{"filter":"datum.part=='n0'"}],"mark":{"type":"text","font":"Liberation Sans","fontSize":47.5,"align":"left","baseline":"alphabetic","color":"#000"}},
{"transform":[{"filter":"datum.part=='b0'"}],"mark":{"type":"text","font":"Liberation Sans","fontWeight":"bold","fontSize":47.5,"align":"left","baseline":"alphabetic","color":"#000"}},
{"transform":[{"filter":"datum.part=='n1'"}],"mark":{"type":"text","font":"Liberation Sans","fontSize":47.5,"align":"left","baseline":"alphabetic","color":"#000","dx":335}},
{"transform":[{"filter":"datum.part=='b2'"}],"mark":{"type":"text","font":"Liberation Sans","fontWeight":"bold","fontSize":47.5,"align":"left","baseline":"alphabetic","color":"#000","dx":178}},
{"transform":[{"filter":"datum.part=='b3'"}],"mark":{"type":"text","font":"Liberation Sans","fontWeight":"bold","fontSize":47.5,"align":"left","baseline":"alphabetic","color":"#000","dx":235}},
{"transform":[{"filter":"datum.part=='n4'"}],"mark":{"type":"text","font":"Liberation Sans","fontSize":47.5,"align":"left","baseline":"alphabetic","color":"#000","dx":405}},
{"transform":[{"filter":"datum.part=='n5'"}],"mark":{"type":"text","font":"Liberation Sans","fontSize":47.5,"align":"left","baseline":"alphabetic","color":"#000","dx":450}},
{"transform":[{"filter":"datum.part=='n6'"}],"mark":{"type":"text","font":"Liberation Sans","fontSize":47.5,"align":"left","baseline":"alphabetic","color":"#000","dx":668}}
]}
]}
]}
